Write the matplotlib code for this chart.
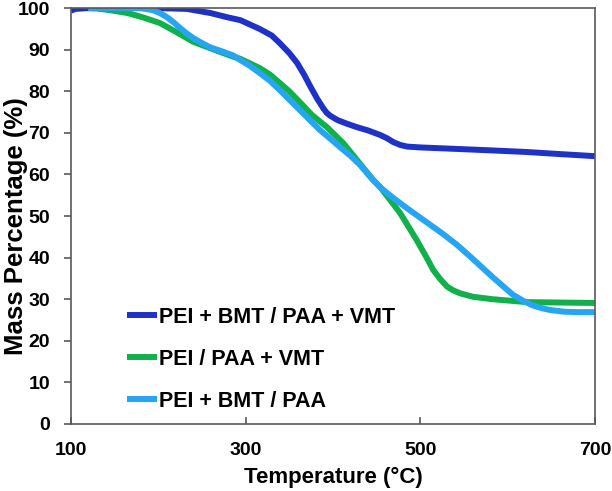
import matplotlib
matplotlib.use("Agg")
import matplotlib.pyplot as plt

# temperatures (°C) and mass percentages (%)
temp_bmt_vmt = [100, 105, 120, 150, 200, 233, 260, 279, 294, 316, 330, 339, 350, 359, 367, 374, 382,
                389, 393, 397, 405, 416, 427, 440, 454, 462, 469, 477, 485, 500, 523, 546, 580, 622, 660, 700]
mass_bmt_vmt = [99.4, 99.8, 100, 100, 100, 99.8, 98.8, 97.8, 97.1, 95.0, 93.4, 91.6, 89.2, 86.8, 84.0, 81.2, 78.2,
                75.9, 74.8, 74.1, 73.1, 72.2, 71.4, 70.6, 69.5, 68.7, 67.8, 67.1, 66.7, 66.5, 66.3, 66.1, 65.8, 65.4, 64.9, 64.4]

temp_vmt = [120, 130, 145, 165, 182, 202, 221, 240, 259, 273, 286, 294, 305, 316, 328, 339, 350, 362, 376,
            393, 412, 434, 446, 454, 465, 477, 496, 506, 515, 523, 531, 538, 546, 560, 583, 622, 660, 700]
mass_vmt = [100, 99.9, 99.5, 98.8, 97.8, 96.4, 94.2, 91.9, 90.4, 89.3, 88.3, 87.8, 86.7, 85.6, 84.0, 82.0, 80.0, 77.4, 74.3,
            71.4, 67.5, 61.8, 58.7, 57.0, 54.0, 50.7, 44.2, 40.5, 37.0, 34.8, 33.0, 32.1, 31.4, 30.6, 30.0, 29.3, 29.2, 29.1]

temp_bmt = [120, 150, 180, 194, 202, 210, 218, 225, 232, 240, 250, 259, 273, 286, 294, 305, 316, 328, 339, 350,
            362, 374, 385, 397, 408, 420, 431, 442, 454, 470, 488, 506, 526, 542, 557, 570, 583, 595, 606, 618,
            629, 640, 649, 665, 680, 700]
mass_bmt = [100, 100, 100, 99.5, 98.8, 97.8, 96.5, 95.2, 94.0, 92.8, 91.6, 90.6, 89.6, 88.6, 87.5, 86.1, 84.4, 82.5, 80.3, 78.0,
            75.5, 73.0, 70.7, 68.6, 66.6, 64.5, 62.3, 59.6, 56.9, 54.2, 51.4, 48.7, 45.7, 43.1, 40.3, 37.8, 35.3, 33.1, 31.1, 29.6,
            28.5, 27.8, 27.4, 27.0, 26.9, 26.9]

labels = ["PEI + BMT / PAA + VMT", "PEI / PAA + VMT", "PEI + BMT / PAA"]
colors = ["#1E32C8", "#10B14B", "#25A5F4"]

plt.rcParams['font.family'] = ['Liberation Sans', 'DejaVu Sans']
plt.rcParams['font.weight'] = 'bold'

fig = plt.figure(figsize=(6.12, 4.91), dpi=100)
ax = fig.add_axes([0.116, 0.1365, 0.856, 0.847])

series = [(temp_bmt_vmt, mass_bmt_vmt), (temp_vmt, mass_vmt), (temp_bmt, mass_bmt)]
for (t, m), lab, c in zip(series, labels, colors):
    ax.plot(t, m, color=c, lw=4.3, label=lab, solid_capstyle='butt', solid_joinstyle='round')

ax.set_xlim(100, 700)
ax.set_ylim(0, 100)
ax.set_xticks([100, 300, 500, 700])
ax.set_yticks(range(0, 101, 10))
ax.tick_params(axis='x', direction='in', length=5, width=1.2, color='#595959', labelsize=14, pad=13)
ax.tick_params(axis='y', direction='out', length=5, width=1.2, color='#595959', labelsize=14, pad=10)
for s in ax.spines.values():
    s.set_color('#595959')
    s.set_linewidth(1.2)

ax.set_xlabel('Temperature (°C)', fontsize=16, fontweight='bold')
ax.set_ylabel('Mass Percentage (%)', fontsize=18.5, fontweight='bold')
ax.xaxis.set_label_coords(0.5, -0.103)
ax.yaxis.set_label_coords(-0.082, 0.475)

leg = ax.legend(loc='lower left', bbox_to_anchor=(0.107, 0.03), frameon=False, fontsize=15.5,
                handlelength=1.4, handletextpad=0.1, labelspacing=0.97, borderpad=0, borderaxespad=0)
for h in leg.get_lines():
    h.set_linewidth(4.3)

fig.savefig('out.png', dpi=100)
